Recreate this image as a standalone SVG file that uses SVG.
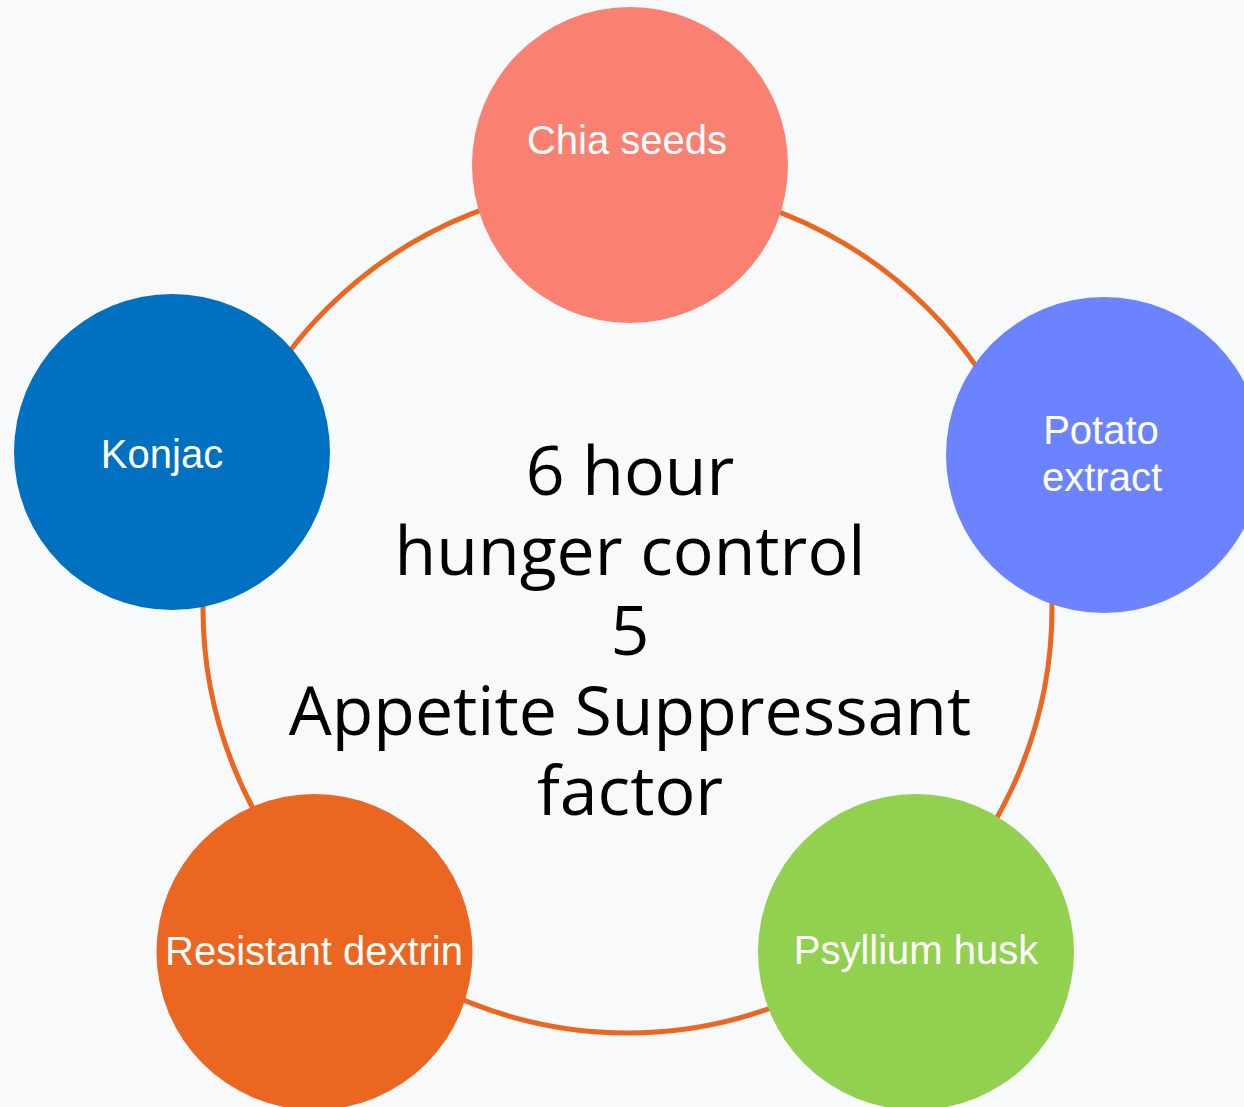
<svg xmlns="http://www.w3.org/2000/svg" width="1244" height="1107" viewBox="0 0 1244 1107">
  <style>
    .node-label { font-family: "Liberation Sans", Arial, sans-serif; font-size: 40px; fill: #ffffff; text-anchor: middle; }
    .center-label { font-family: "Open Sans", "Noto Sans", sans-serif; font-size: 68px; fill: #000000; text-anchor: middle; }
    .ring { fill: none; stroke: #EB6620; stroke-width: 5; }
  </style>
  <rect x="0" y="0" width="1244" height="1107" fill="#F8F9FB"/>
  <g id="connectors">
    <circle class="ring" cx="627.5" cy="608.5" r="424.5"/>
  </g>
  <g id="center">
    <text class="center-label"><tspan x="630" y="495">6 hour</tspan><tspan x="630" y="575">hunger control</tspan><tspan x="630" y="655">5</tspan><tspan x="630" y="735">Appetite Suppressant</tspan><tspan x="630" y="815">factor</tspan></text>
  </g>
  <g id="node-chia">
    <circle cx="630" cy="165" r="158" fill="#FA8072"/>
    <text class="node-label" x="627" y="154">Chia seeds</text>
  </g>
  <g id="node-potato">
    <circle cx="1104" cy="455" r="158" fill="#6B83FF"/>
    <text class="node-label"><tspan x="1101" y="444">Potato</tspan><tspan x="1102" y="491">extract</tspan></text>
  </g>
  <g id="node-konjac">
    <circle cx="172" cy="452" r="158" fill="#0070C0"/>
    <text class="node-label" x="162" y="468">Konjac</text>
  </g>
  <g id="node-dextrin">
    <circle cx="314.5" cy="952" r="158" fill="#EB6620"/>
    <text class="node-label" x="314" y="965">Resistant dextrin</text>
  </g>
  <g id="node-psyllium">
    <circle cx="916" cy="952" r="158" fill="#92D050"/>
    <text class="node-label" x="916" y="964">Psyllium husk</text>
  </g>
</svg>
